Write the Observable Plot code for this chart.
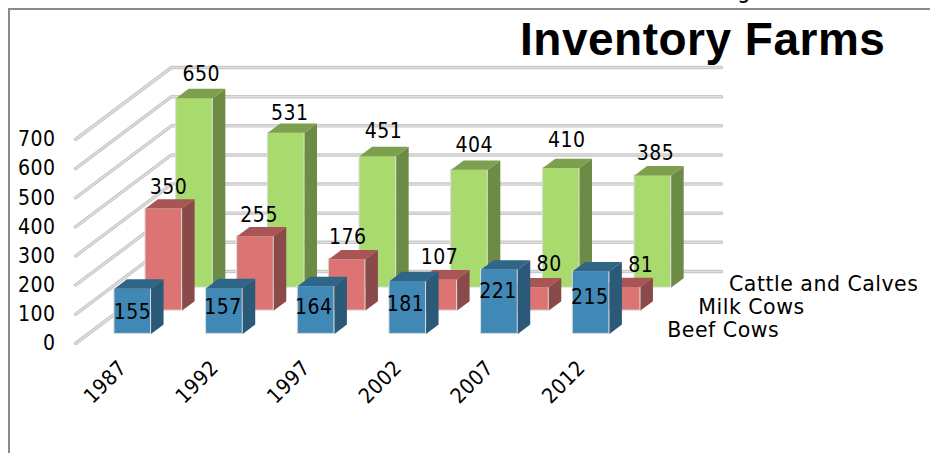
<!DOCTYPE html>
<html>
<head>
<meta charset="utf-8">
<script src="https://cdn.jsdelivr.net/npm/d3@7"></script>
<script src="https://cdn.jsdelivr.net/npm/@observablehq/plot@0.6"></script>
<style>
  html, body { margin: 0; padding: 0; background: #fff; width: 930px; height: 453px; overflow: hidden; }
  #chart { position: absolute; left: 0; top: 0; }
  #chart text { letter-spacing: 0.5px; }
  #frame { position: absolute; left: 8px; top: 8px; width: 930px; height: 460px; border-left: 2px solid #8a8a8a; border-top: 2px solid #8a8a8a; }
  #title { position: absolute; left: 520px; top: 16px; margin: 0; font: bold 46px/1 "Liberation Sans", sans-serif; letter-spacing: 0.5px; color: #000; white-space: nowrap; }
  #clipped { position: absolute; left: 737px; top: -24px; font: 24px "DejaVu Sans Condensed", "DejaVu Sans", sans-serif; color: #000; }
</style>
</head>
<body>
<div id="frame"></div>
<div id="chart"></div>
<div id="clipped">g</div>
<h1 id="title">Inventory Farms</h1>
<script>
// ---- values ----
const years = [1987, 1992, 1997, 2002, 2007, 2012];
const cattleAndCalves = [650, 531, 451, 404, 410, 385];
const milkCows = [350, 255, 176, 107, 80, 81];
const beefCows = [155, 157, 164, 181, 221, 215];
const yTicks = [0, 100, 200, 300, 400, 500, 600, 700];

// ---- label nudges in pixels, one per bar ----
const cattleNudgeX = [25, 22, 24, 23, 24, 21];
const cattleNudgeY = [-24, -20, -25, -25, -28, -22];
const milkNudgeX = [23, 22, 19, 19, 37, 37];
const milkNudgeY = [-21, -21, -22, -22, -23, -22];
const beefNudgeX = [18, 17, 16, 16, 17, 17];
const beefNudgeY = [24, 19, 21, 23, 22, 26];

// ---- oblique projection: depth d is drawn as a shift in both x and y ----
const W = 930, H = 453, mL = 75, mR = 305, mT = 139, mB = 110;
const pxPerX = (W - mL - mR) / years.length;
const pxPerY = (H - mT - mB) / 700;
const depthX = 32 / pxPerX;      // x units per depth step
const depthY = 24 / pxPerY;      // value units per depth step
const wallDepth = 3, barDepth = 0.39, barLeft = 0.285, barWidth = 0.4;
const px = (i, d) => i + d * depthX;
const py = (v, d) => v + d * depthY;

const series = [
  {name: "Cattle and Calves", values: cattleAndCalves, depth: 2.33, nx: cattleNudgeX, ny: cattleNudgeY, front: "#a8da6e", top: "#7ca04e", side: "#6c8b45"},
  {name: "Milk Cows", values: milkCows, depth: 1.37, nx: milkNudgeX, ny: milkNudgeY, front: "#dd7474", top: "#aa5555", side: "#8b4a4a"},
  {name: "Beef Cows", values: beefCows, depth: 0.4, nx: beefNudgeX, ny: beefNudgeY, front: "#4088b5", top: "#2f6586", side: "#2a5a78"}
];

const gridRows = yTicks.flatMap(v => [
  {v, x: px(0, 0), y: py(v, 0)},
  {v, x: px(0, wallDepth), y: py(v, wallDepth)},
  {v, x: px(years.length, wallDepth), y: py(v, wallDepth)}
]);

function barMarks(s) {
  const rows = s.values.map((v, i) => ({i, v, x1: px(i + barLeft, s.depth), x2: px(i + barLeft + barWidth, s.depth), y: py(v, s.depth), y0: py(0, s.depth)}));
  const d2 = s.depth + barDepth;
  const sidePts = rows.flatMap(r => [
    {id: r.i, x: r.x2, y: r.y0},
    {id: r.i, x: r.x2, y: r.y},
    {id: r.i, x: px(r.i + barLeft + barWidth, d2), y: py(r.v, d2)},
    {id: r.i, x: px(r.i + barLeft + barWidth, d2), y: py(0, d2)}
  ]);
  const topPts = rows.flatMap(r => [
    {id: r.i, x: r.x1, y: r.y},
    {id: r.i, x: r.x2, y: r.y},
    {id: r.i, x: px(r.i + barLeft + barWidth, d2), y: py(r.v, d2)},
    {id: r.i, x: px(r.i + barLeft, d2), y: py(r.v, d2)}
  ]);
  return [
    Plot.rect(rows, {x1: "x1", x2: "x2", y1: "y0", y2: "y", fill: s.front, stroke: "#dcdcdc", strokeWidth: 1}),
    Plot.line(sidePts, {x: "x", y: "y", z: "id", fill: s.side, stroke: "none"}),
    Plot.line(topPts, {x: "x", y: "y", z: "id", fill: s.top, stroke: "none"})
  ];
}

const labelRows = series.flatMap(s => s.values.map((v, i) => ({
  v,
  x: px(i + barLeft, s.depth) + s.nx[i] / pxPerX,
  y: py(v, s.depth) - s.ny[i] / pxPerY
})));

const font = '"DejaVu Sans Condensed", "DejaVu Sans", sans-serif';

const chart = Plot.plot({
  width: W, height: H,
  marginLeft: mL, marginRight: mR, marginTop: mT, marginBottom: mB,
  style: {background: "transparent", fontFamily: font, color: "#000", overflow: "visible"},
  x: {domain: [0, years.length]},
  y: {domain: [0, 700]},
  marks: [
    Plot.line(gridRows, {x: "x", y: "y", z: "v", stroke: "#c9c9c9", strokeWidth: 3.5, strokeLinejoin: "round"}),
    Plot.line(gridRows, {x: "x", y: "y", z: "v", stroke: "#dfdfdf", strokeWidth: 1.2, strokeLinejoin: "round"}),
    ...series.flatMap(barMarks),
    Plot.axisY({ticks: yTicks, tickSize: 0, tickPadding: 20, label: null, fontSize: 21, tickFormat: d => String(d)}),
    Plot.axisX({ticks: years.map((_, i) => i + 0.52), tickSize: 0, tickPadding: 21, tickRotate: -45, label: null, fontSize: 21, tickFormat: d => String(years[Math.floor(d)])}),
    Plot.text(labelRows, {x: "x", y: "y", text: d => String(d.v), fontSize: 21, fill: "#000", lineAnchor: "middle", textAnchor: "middle"}),
    Plot.text(series, {x: s => px(years.length, s.depth), y: s => py(0, s.depth), text: "name", dx: 29, dy: -3, textAnchor: "start", lineAnchor: "middle", fontSize: 20.5, fontFamily: '"DejaVu Sans", sans-serif', fill: "#000"})
  ]
});
document.getElementById("chart").appendChild(chart);
</script>
</body>
</html>
